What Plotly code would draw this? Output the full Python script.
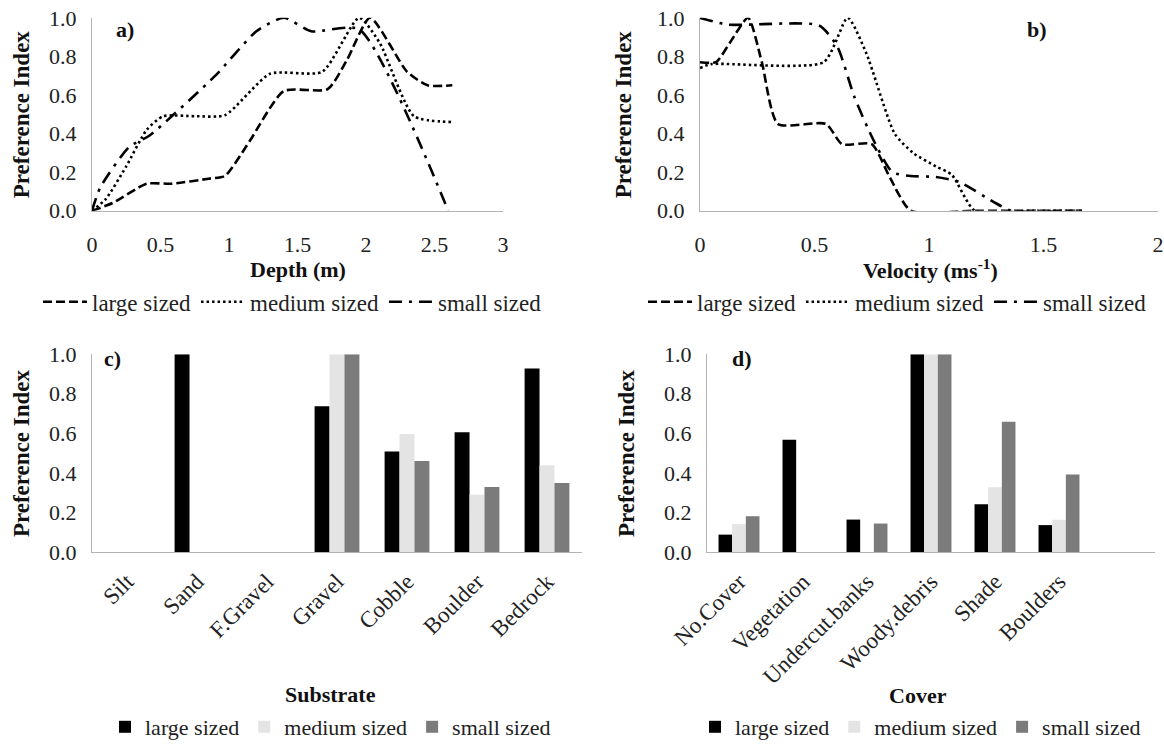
import plotly.graph_objects as go

W, H = 1164, 748
FONT = "Liberation Serif"

# ---------- Panel a: Depth ----------
depth_large_x = [0, 0.15, 0.4, 0.58, 0.85, 0.97, 1.15, 1.4, 1.72, 1.86, 2.03, 2.3, 2.45, 2.63]
depth_large_y = [0, 0.04, 0.14, 0.14, 0.166, 0.18, 0.36, 0.62, 0.63, 0.78, 1.0, 0.72, 0.65, 0.65]
depth_medium_x = [0, 0.1, 0.25, 0.4, 0.52, 0.75, 0.97, 1.3, 1.68, 1.95, 2.1, 2.35, 2.63]
depth_medium_y = [0, 0.06, 0.23, 0.42, 0.49, 0.49, 0.495, 0.71, 0.72, 1.0, 0.87, 0.49, 0.46]
depth_small_x = [0, 0.06, 0.27, 0.42, 0.9, 1.2, 1.4, 1.6, 1.95, 2.6]
depth_small_y = [0, 0.12, 0.33, 0.39, 0.70, 0.93, 1.0, 0.93, 0.94, 0.0]

# ---------- Panel b: Velocity ----------
vel_large_x = [0, 0.07, 0.13, 0.21, 0.27, 0.34, 0.55, 0.62, 0.75, 0.83, 0.92, 1.2, 1.667]
vel_large_y = [0.77, 0.77, 0.87, 1.0, 0.77, 0.45, 0.45, 0.345, 0.345, 0.17, 0.0, 0.0, 0.0]
vel_medium_x = [0, 0.05, 0.54, 0.645, 0.725, 0.85, 0.93, 1.03, 1.10, 1.2, 1.45, 1.667]
vel_medium_y = [0.74, 0.76, 0.77, 1.0, 0.82, 0.40, 0.30, 0.23, 0.186, 0.0, 0.0, 0.0]
vel_small_x = [0, 0.12, 0.52, 0.6, 0.674, 0.76, 0.84, 0.92, 1.03, 1.13, 1.29, 1.36, 1.667]
vel_small_y = [1.0, 0.965, 0.96, 0.85, 0.59, 0.36, 0.2, 0.18, 0.175, 0.15, 0.04, 0.0, 0.0]

# ---------- Panel c: Substrate ----------
substrate = ["Silt", "Sand", "F.Gravel", "Gravel", "Cobble", "Boulder", "Bedrock"]
sub_large = [0, 1.0, 0, 0.737, 0.508, 0.606, 0.928]
sub_medium = [0, 0, 0, 1.0, 0.596, 0.289, 0.438]
sub_small = [0, 0, 0, 1.0, 0.46, 0.329, 0.349]

# ---------- Panel d: Cover ----------
cover = ["No.Cover", "Vegetation", "Undercut.banks", "Woody.debris", "Shade", "Boulders"]
cov_large = [0.088, 0.568, 0.164, 1.0, 0.242, 0.136]
cov_medium = [0.141, 0, 0, 1.0, 0.327, 0.163]
cov_small = [0.181, 0, 0.144, 1.0, 0.658, 0.392]

series_names = ["large sized", "medium sized", "small sized"]
line_dashes = ["9px,4px", "2.5px,3px", "13px,7px,3px,7px"]
bar_colors = ["#000000", "#e4e4e4", "#7b7b7b"]


def px_x(p):
    return p / W


def px_y(p):
    return 1 - p / H


fig = go.Figure()

line_sets = [
    ("x", "y", "legend", [(depth_large_x, depth_large_y), (depth_medium_x, depth_medium_y), (depth_small_x, depth_small_y)]),
    ("x2", "y2", "legend2", [(vel_large_x, vel_large_y), (vel_medium_x, vel_medium_y), (vel_small_x, vel_small_y)]),
]
for xa, ya, lg, data in line_sets:
    for i, (xs, ys) in enumerate(data):
        fig.add_trace(go.Scatter(
            x=xs, y=ys, mode="lines", name=series_names[i], xaxis=xa, yaxis=ya,
            legend=lg, line=dict(color="black", width=2.6, dash=line_dashes[i],
                                 shape="spline", smoothing=0.6),
            hoverinfo="skip"))

bar_sets = [
    ("x3", "y3", "legend3", substrate, [sub_large, sub_medium, sub_small]),
    ("x4", "y4", "legend4", cover, [cov_large, cov_medium, cov_small]),
]
for xa, ya, lg, cats, vals in bar_sets:
    for i, v in enumerate(vals):
        fig.add_trace(go.Bar(
            x=cats, y=v, name=series_names[i], xaxis=xa, yaxis=ya, legend=lg,
            marker=dict(color=bar_colors[i], line=dict(width=0)),
            hoverinfo="skip"))

tickfont = dict(family=FONT, size=22, color="#222222")
catfont = dict(family=FONT, size=23, color="#222222")
axis_common = dict(showgrid=False, zeroline=False, showline=True, linecolor="#b3b3b3",
                   linewidth=1, ticks="", tickfont=tickfont, fixedrange=True, automargin=False)
yaxis_common = dict(axis_common, range=[0, 1.0], tickvals=[0, 0.2, 0.4, 0.6, 0.8, 1.0],
                    ticktext=["0.0", "0.2", "0.4", "0.6", "0.8", "1.0"], ticklabelstandoff=10)

dom_a_x = [px_x(92), px_x(503)]
dom_b_x = [px_x(700), px_x(1158)]
dom_top_y = [px_y(213), px_y(18)]
dom_c_x = [px_x(92), px_x(582)]
dom_d_x = [px_x(707), px_x(1155)]
dom_bot_y = [px_y(558), px_y(358)]

fig.update_layout(
    template="none",
    width=W, height=H, autosize=False, margin=dict(l=0, r=0, t=0, b=0, pad=0),
    paper_bgcolor="white", plot_bgcolor="white",
    barmode="group", bargap=0.36, bargroupgap=0,
    font=dict(family=FONT, size=22, color="#222222"),
    xaxis=dict(axis_common, domain=dom_a_x, anchor="y", range=[0, 3], dtick=0.5, tick0=0,
               ticklabelstandoff=14),
    yaxis=dict(yaxis_common, domain=dom_top_y, anchor="x"),
    xaxis2=dict(axis_common, domain=dom_b_x, anchor="y2", range=[0, 2], dtick=0.5, tick0=0,
                ticklabelstandoff=14),
    yaxis2=dict(yaxis_common, domain=dom_top_y, anchor="x2"),
    xaxis3=dict(axis_common, domain=dom_c_x, anchor="y3", type="category", range=[-0.5, 6.5],
                tickangle=-45, ticklabelstandoff=6, tickfont=catfont),
    yaxis3=dict(yaxis_common, domain=dom_bot_y, anchor="x3"),
    xaxis4=dict(axis_common, domain=dom_d_x, anchor="y4", type="category", range=[-0.5, 6.5],
                tickangle=-45, ticklabelstandoff=6, tickfont=catfont),
    yaxis4=dict(yaxis_common, domain=dom_bot_y, anchor="x4"),
)

leg_common = dict(orientation="h", xanchor="left", bgcolor="rgba(0,0,0,0)",
                  font=dict(family=FONT, size=23, color="#222222"), tracegroupgap=0,
                  borderwidth=0)
leg_bar_font = dict(family=FONT, size=22, color="#222222")
fig.update_layout(
    legend=dict(leg_common, x=px_x(38), y=px_y(305), yanchor="middle", itemwidth=44),
    legend2=dict(leg_common, x=px_x(643), y=px_y(305), yanchor="middle", itemwidth=44),
    legend3=dict(leg_common, x=px_x(105), y=px_y(735), yanchor="middle", itemwidth=30,
                 font=leg_bar_font),
    legend4=dict(leg_common, x=px_x(695), y=px_y(735), yanchor="middle", itemwidth=30,
                 font=leg_bar_font),
)

annotations = []
bold = dict(family=FONT, size=22, color="#111111")
ytitle = dict(family=FONT, size=23, color="#111111")
for (xp, yp) in [(21, 115.5), (623, 115.5), (21, 458), (626, 458)]:
    annotations.append(dict(text="<b>Preference Index</b>", x=px_x(xp), y=px_y(yp), xref="paper",
                            yref="paper", showarrow=False, textangle=-90, font=ytitle,
                            xanchor="center", yanchor="middle"))
for txt, xp, yp in [("Depth (m)", 298, 272), ("Velocity (ms<sup>-1</sup>)", 930, 272),
                    ("Substrate", 330, 702), ("Cover", 918, 703)]:
    annotations.append(dict(text="<b>" + txt + "</b>", x=px_x(xp), y=px_y(yp), xref="paper",
                            yref="paper", showarrow=False, font=bold,
                            xanchor="center", yanchor="middle"))
for txt, xp, yp in [("a)", 125, 30), ("b)", 1037, 30), ("c)", 112, 362), ("d)", 742, 362)]:
    annotations.append(dict(text="<b>" + txt + "</b>", x=px_x(xp), y=px_y(yp), xref="paper",
                            yref="paper", showarrow=False, font=bold,
                            xanchor="center", yanchor="middle"))
fig.update_layout(annotations=annotations)

fig.write_html("out.html", config={"displayModeBar": False},
               post_script="document.body.style.margin='0px';document.body.style.overflow='hidden';")
